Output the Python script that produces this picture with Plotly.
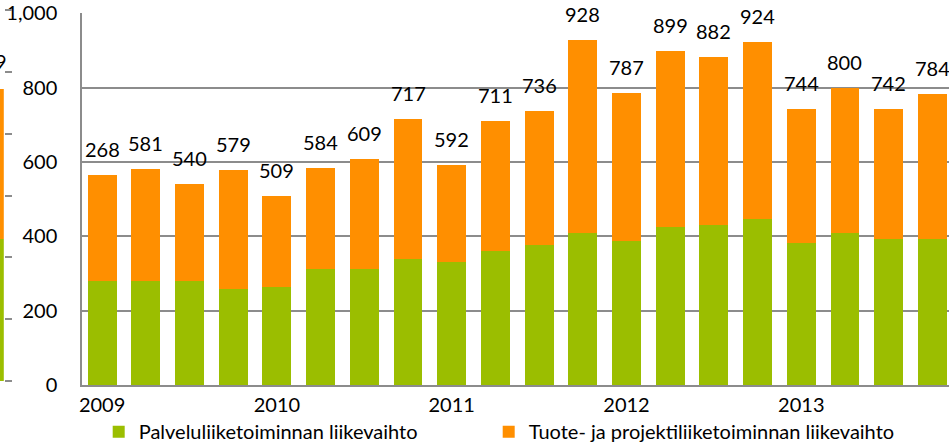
import plotly.graph_objects as go

# quarterly revenue 2009-2013 (20 quarters)
quarters = list(range(20))
year_ticks = [0, 4, 8, 12, 16]
year_labels = ["2009", "2010", "2011", "2012", "2013"]

palvelu = [280, 280, 280, 259, 264, 313, 313, 340, 330, 361,
           378, 410, 388, 426, 431, 447, 383, 409, 393, 393]
tuote = [285, 301, 260, 320, 245, 271, 296, 377, 262, 350,
         358, 518, 399, 473, 451, 477, 361, 391, 349, 391]
total_labels = ["268", "581", "540", "579", "509", "584", "609", "717", "592", "711",
                "736", "928", "787", "899", "882", "924", "744", "800", "742", "784"]

# cut-off edge of the neighbouring chart on the left
prev_palvelu = [2.30]
prev_tuote = [2.42]
prev_label = "9"

name_palvelu = "Palveluliiketoiminnan liikevaihto"
name_tuote = "Tuote- ja projektiliiketoiminnan liikevaihto"

green = "#9BBE00"
orange = "#FF8F00"
grid = "#8c8c8c"
font = "Lato"

fig = go.Figure()

fig.add_trace(go.Bar(x=quarters, y=palvelu, name=name_palvelu, legendwidth=345,
                     marker=dict(color=green, line=dict(width=0))))
fig.add_trace(go.Bar(x=quarters, y=tuote, name=name_tuote, legendwidth=390,
                     marker=dict(color=orange, line=dict(width=0))))

# neighbour fragment
fig.add_trace(go.Bar(x=[0], y=prev_palvelu, width=[1], xaxis="x2", yaxis="y2",
                     marker=dict(color=green, line=dict(width=0)), showlegend=False))
fig.add_trace(go.Bar(x=[0], y=prev_tuote, width=[1], xaxis="x2", yaxis="y2",
                     marker=dict(color=orange, line=dict(width=0)), showlegend=False))

annotations = []
for q, p, t, lab in zip(quarters, palvelu, tuote, total_labels):
    annotations.append(dict(x=q, y=p + t, text=lab, xref="x", yref="y",
                            showarrow=False, yanchor="bottom", yshift=12,
                            font=dict(size=20, color="black", family=font)))
annotations.append(dict(x=0.5, y=prev_palvelu[0] + prev_tuote[0], text=prev_label,
                        xref="x2", yref="y2", showarrow=False, xanchor="right",
                        yanchor="bottom", xshift=5, yshift=14,
                        font=dict(size=20, color="black", family=font)))

fig.update_layout(
    width=949, height=444,
    margin=dict(l=0, r=0, t=8, b=59, autoexpand=False),
    paper_bgcolor="white", plot_bgcolor="white",
    barmode="stack", bargap=0.34,
    font=dict(family=font, size=20, color="black"),
    annotations=annotations,
    xaxis=dict(domain=[82 / 949, 1], range=[-0.46, 19.38],
               tickmode="array", tickvals=year_ticks, ticktext=year_labels,
               showgrid=False, zeroline=False, showline=True, linecolor=grid,
               linewidth=1.5, ticks="", ticklabelstandoff=1, automargin=False),
    yaxis=dict(domain=[0, 372 / 377], range=[0, 1001], dtick=200, tickformat=",d",
               showgrid=True, gridcolor=grid, gridwidth=1.5, zeroline=False,
               showline=True, linecolor=grid, linewidth=1.5, ticks="",
               ticklabelstandoff=19, automargin=False),
    xaxis2=dict(domain=[0, 0.004], range=[-0.5, 0.5], visible=False),
    yaxis2=dict(domain=[4 / 377, 375 / 377], range=[0, 6], dtick=1, anchor="x2",
                side="right", ticks="outside", ticklen=7, tickcolor=grid, tickwidth=1.5,
                showticklabels=False, showgrid=False, zeroline=False, showline=False),
    legend=dict(orientation="h", traceorder="normal", x=0.104, xanchor="left",
                y=-0.072, yanchor="top",
                font=dict(size=20, family=font), bgcolor="rgba(0,0,0,0)"),
)

fig.write_html("out.html", config={"displayModeBar": False},
               post_script="document.body.style.margin='0';")
